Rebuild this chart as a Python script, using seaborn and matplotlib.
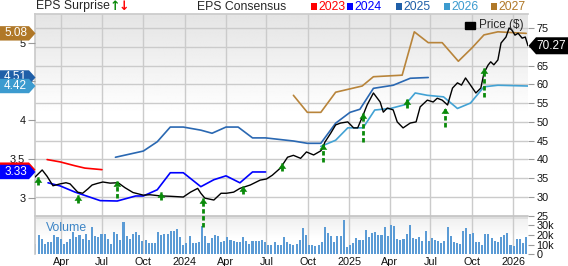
import numpy as np
import pandas as pd
import matplotlib
matplotlib.use("Agg")
import matplotlib.pyplot as plt
import matplotlib.dates as mdates
from matplotlib.patches import Polygon, Rectangle
from matplotlib.transforms import IdentityTransform
from matplotlib.ticker import FuncFormatter
import seaborn as sns

sns.set_theme(style="white")
plt.rcParams['font.family'] = ['Liberation Sans', 'DejaVu Sans']

# ---------------- data ----------------
price_dates = ["2023-02-02","2023-02-18","2023-03-01","2023-03-14","2023-03-30","2023-04-12","2023-04-21","2023-05-08","2023-05-19","2023-05-31",
               "2023-06-09","2023-06-20","2023-07-03","2023-07-19","2023-08-06","2023-08-21","2023-09-08","2023-10-01","2023-10-16","2023-11-08",
               "2023-11-30","2023-12-29","2024-01-14","2024-01-30","2024-02-06","2024-02-15","2024-03-06","2024-03-22","2024-04-03","2024-04-19",
               "2024-05-03","2024-05-26","2024-06-17","2024-07-01","2024-07-14","2024-08-01","2024-08-17","2024-08-30","2024-09-15","2024-09-28",
               "2024-10-14","2024-10-30","2024-11-03","2024-11-08","2024-11-21","2024-12-02","2024-12-13","2024-12-29","2025-01-11","2025-01-20",
               "2025-02-01","2025-02-10","2025-02-24","2025-03-11","2025-03-18","2025-03-27","2025-04-09","2025-04-18","2025-05-01","2025-05-17",
               "2025-05-30","2025-06-08","2025-06-24","2025-07-07","2025-07-16","2025-07-27","2025-08-08","2025-08-19","2025-08-30","2025-09-08",
               "2025-09-17","2025-09-28","2025-10-10","2025-10-21","2025-10-28","2025-11-06","2025-11-12","2025-11-19","2025-11-28","2025-12-05",
               "2025-12-16","2025-12-23","2025-12-29","2026-01-05","2026-01-12","2026-01-21","2026-01-28","2026-02-03"]
price_vals = [35.3,37.2,35.5,33.0,33.5,33.8,33.5,31.3,31.0,32.2,
              33.2,33.6,34.0,33.7,33.8,32.5,31.2,30.5,30.6,30.3,
              30.2,30.0,31.3,32.3,31.0,29.7,29.2,31.0,31.0,31.3,
              32.3,33.2,34.5,34.8,35.8,37.7,40.6,41.1,40.3,42.0,
              41.2,42.3,43.0,44.6,47.0,49.2,49.7,50.0,48.4,48.4,
              51.8,54.5,57.7,55.3,52.6,53.7,53.2,50.0,48.4,49.7,
              50.0,54.0,55.8,55.3,56.3,55.8,54.5,59.0,60.4,59.8,
              61.7,59.8,57.7,59.0,63.0,65.1,66.0,65.2,66.5,71.0,
              72.6,75.0,74.5,73.1,73.6,72.3,72.6,70.27]

eps23_dates = ["2023-03-01","2023-03-30","2023-05-02","2023-05-24","2023-07-01"]
eps23_vals = [3.49,3.46,3.41,3.38,3.36]
eps24_dates = ["2023-03-03","2023-03-30","2023-05-02","2023-06-27","2023-08-04","2023-09-14","2023-10-01","2023-11-01",
               "2023-11-30","2023-12-29","2024-02-06","2024-03-06","2024-04-02","2024-05-03","2024-05-31","2024-06-29"]
eps24_vals = [3.19,3.15,3.07,2.96,2.955,3.02,3.02,3.10,3.32,3.32,3.14,3.23,3.28,3.19,3.33,3.33]
eps25_dates = ["2023-07-31","2023-10-01","2023-11-01","2023-11-30","2023-12-29","2024-02-06","2024-03-02","2024-04-02",
               "2024-04-29","2024-05-31","2024-06-29","2024-08-30","2024-09-30","2024-10-30","2024-12-02","2025-01-03",
               "2025-01-25","2025-02-24","2025-04-09","2025-05-17","2025-06-26"]
eps25_vals = [3.52,3.60,3.72,3.91,3.91,3.87,3.83,3.91,3.91,3.77,3.77,3.73,3.70,3.70,3.96,4.10,4.14,4.41,4.45,4.54,4.55]
eps26_dates = ["2024-10-30","2024-12-02","2024-12-29","2025-02-01","2025-02-27","2025-04-03","2025-05-06","2025-05-28",
               "2025-06-24","2025-07-30","2025-08-30","2025-09-28","2025-10-28","2025-11-28","2026-02-03"]
eps26_vals = [3.66,3.74,3.90,3.90,4.13,4.15,4.20,4.35,4.32,4.30,4.15,4.22,4.43,4.45,4.44]
eps27_dates = ["2024-08-30","2024-09-30","2024-10-30","2024-12-02","2025-01-30","2025-02-24","2025-04-29","2025-05-26",
               "2025-06-26","2025-07-27","2025-09-01","2025-10-01","2025-10-28","2025-11-28","2026-01-30"]
eps27_vals = [4.32,4.10,4.10,4.36,4.44,4.56,4.58,5.14,5.00,5.00,4.76,4.93,5.10,5.14,5.12]

consensus_years = ["2023", "2024", "2025", "2026", "2027"]
consensus_colors = ["#ff0000", "#0000ff", "#2a68b2", "#42a2d4", "#b8843a"]
tag_colors = ["#ff0000", "#0000ff", "#1f5fa8", "#3c9bcf", "#b07828"]
tag_texts = ["", "3.33", "4.51", "4.42", "5.08"]

surp_dates = ["2023-02-08","2023-05-08","2023-08-04","2023-11-10","2024-02-10","2024-05-10",
              "2024-08-05","2024-11-03","2025-02-01","2025-05-10","2025-08-03","2025-10-28"]
surp_head = [35.3,30.5,34.3,31.3,29.7,32.9,39.1,44.1,52.4,56.1,53.7,64.4]
surp_tail = [33.2,28.4,29.7,29.2,22.0,30.8,37.0,39.3,44.6,53.7,48.6,56.6]

vol_start = "2023-02-03"
vol_k = [11,20,16,11,13,13,20,18,16,11,13,16,23,18,20,16,21,15,28,19,18,21,21,16,11,23,21,15,33,19,16,21,
         23,20,14,15,12,12,12,23,20,21,21,24,24,26,18,9,12,19,12,12,13,29,19,12,17,20,19,13,14,18,15,
         14,13,13,18,14,11,14,14,14,15,13,10,10,13,10,10,18,13,11,10,11,15,27,20,10,10,8,10,13,28,22,
         19,13,19,19,35,7,9,12,17,15,15,25,18,22,23,20,20,28,19,30,29,16,15,16,21,30,17,16,18,14,24,14,
         17,15,14,12,14,28,19,13,12,11,24,27,21,22,13,13,10,21,21,17,14,13,18,20,22,10,8,16,16,12,18]

price_ticks = [25, 30, 35, 40, 45, 50, 55, 60, 65, 70, 75]
price_tick_labels = ["25", "30", "35", "40", "45", "50", "55", "60", "65", "", "75"]
eps_ticks = [3, 3.5, 4, 4.5, 5]
eps_tick_labels = ["3", "3.5", "4", "", "5"]
vol_ticks = [0, 10000, 20000, 30000]
vol_tick_labels = ["0", "10k", "20k", "30k"]
last_price_label = "70.27"

# ---------------- layout ----------------
W, H = 568, 266
fig = plt.figure(figsize=(W / 100, H / 100), dpi=100)
fig.patch.set_facecolor("white")
L, R = 35, 528
TOP, MID, VB = 14, 215.8, 254.3

def rect(x0, x1, ytop, ybot):
    return [x0 / W, (H - ybot) / H, (x1 - x0) / W, (ybot - ytop) / H]

# gradient backgrounds
bg = fig.add_axes(rect(L, R, TOP, MID), zorder=-2)
t = np.linspace(0, 1, 200)[:, None]
grad = np.clip(0.895 + 0.105 * t / 0.5, 0, 1)
bg.imshow(np.repeat(grad, 2, axis=1), aspect="auto", extent=[0, 1, 0, 1], cmap="gray", vmin=0, vmax=1)
bg.axis("off")
bgv = fig.add_axes(rect(L, R, MID, VB), zorder=-2)
gv = np.clip(0.93 + 0.07 * np.linspace(0, 1, 100)[:, None] / 0.6, 0, 1)
bgv.imshow(np.repeat(gv, 2, axis=1), aspect="auto", extent=[0, 1, 0, 1], cmap="gray", vmin=0, vmax=1)
bgv.axis("off")

ax = fig.add_axes(rect(L, R, TOP, MID))
axv = fig.add_axes(rect(L, R, MID, VB), sharex=ax)
ax_eps = ax.twinx()
ax_pr = ax.twinx()
for a in (ax, axv, ax_eps, ax_pr):
    a.set_facecolor("none")
    for s in a.spines.values():
        s.set_visible(False)

x0 = pd.Timestamp("2023-02-02")
x1 = pd.Timestamp("2026-02-03")
ax.set_xlim(x0, x1)

# axes scales
ax.set_ylim(25.0, 78.73)
ax_pr.set_ylim(25.0, 78.73)
ax_eps.set_ylim(2.764, 5.37)
axv.set_ylim(0, 39300)

# grid
grid_c = "#cbcbcb"
ax.xaxis.set_major_locator(mdates.MonthLocator(bymonth=[1, 4, 7, 10]))
ax.xaxis.set_major_formatter(FuncFormatter(
    lambda v, p: (str(mdates.num2date(v).year) if mdates.num2date(v).month == 1
                  else mdates.num2date(v).strftime("%b"))))
ax.set_yticks(price_ticks)
ax.set_yticklabels(price_tick_labels)
ax.grid(True, color=grid_c, lw=1.0)
ax.set_axisbelow(True)
axv.grid(True, axis="x", color=grid_c, lw=1.0)
axv.set_axisbelow(True)
ax.spines["top"].set_visible(True); ax.spines["top"].set_color(grid_c)
ax.spines["left"].set_visible(True); ax.spines["left"].set_color(grid_c)
axv.spines["left"].set_visible(True); axv.spines["left"].set_color(grid_c)
axv.axhspan(36300, 39300, color="#dedede", lw=0, zorder=0)
axv.axhline(39300, color="#c4c4c4", lw=1.2, clip_on=False)

# ticks
ax.yaxis.tick_right()
ax.tick_params(axis="y", right=True, left=False, length=4, width=0.8, color="#9a9a9a",
               labelsize=7.8, pad=2, labelcolor="#111111")
ax.tick_params(axis="x", labelbottom=False, length=0)
ax_eps.yaxis.tick_left()
ax_eps.set_yticks(eps_ticks)
ax_eps.set_yticklabels(eps_tick_labels)
ax_eps.tick_params(axis="y", left=True, right=False, labelleft=True, labelright=False,
                   length=5, width=0.8, color="#9a9a9a", labelsize=7.8, pad=2, labelcolor="#111111")
ax_pr.set_yticks([])
ax_pr.tick_params(axis="both", length=0, labelright=False)
axv.yaxis.tick_right()
axv.set_yticks(vol_ticks)
axv.set_yticklabels(vol_tick_labels)
axv.tick_params(axis="y", right=True, left=False, length=4, width=0.8, color="#9a9a9a",
                labelsize=7.8, pad=2, labelcolor="#111111")
axv.tick_params(axis="x", length=0, labelsize=7.8, pad=2, labelcolor="#111111")

# ---------------- marks ----------------
# volume
vol_dates = pd.date_range(vol_start, periods=len(vol_k), freq="7D")
axv.bar(vol_dates, np.array(vol_k) * 1000, width=4.6, color="#5b9bd5", lw=0, zorder=2)
axv.text((46 - L) / (R - L), 0.68, "Volume", transform=axv.transAxes, color="#3d85c6",
         fontsize=8.8, ha="left", va="center", zorder=3)

# consensus lines
eps_sets = [(eps23_dates, eps23_vals), (eps24_dates, eps24_vals), (eps25_dates, eps25_vals),
            (eps26_dates, eps26_vals), (eps27_dates, eps27_vals)]
for (d, v), c in zip(eps_sets, consensus_colors):
    df = pd.DataFrame({"date": pd.to_datetime(d), "eps": v})
    sns.lineplot(data=df, x="date", y="eps", ax=ax_eps, color=c, lw=1.2, legend=False)
ax_eps.set_xlabel(""); ax_eps.set_ylabel("")

# price line
pdf = pd.DataFrame({"date": pd.to_datetime(price_dates), "price": price_vals})
sns.lineplot(data=pdf, x="date", y="price", ax=ax_pr, color="black", lw=1.0, legend=False)
ax_pr.set_xlabel(""); ax_pr.set_ylabel("")
ax.set_xlabel(""); ax.set_ylabel("")
ax.set_xlim(x0, x1)

# surprise arrows (apex of the custom marker sits on the point)
sd = pd.to_datetime(surp_dates)
green = "#0a8a0a"
ax_pr.vlines(sd, surp_tail, surp_head, colors=green, linestyles=(0, (1.6, 0.9)),
             lw=2.0, clip_on=False, zorder=5)
head_marker = [(0, 0), (-0.5, -0.71), (0.5, -0.71)]
ax_pr.plot(sd, surp_head, ls="none", marker=head_marker, ms=7.4, color=green, mec=green, mew=0.3,
           clip_on=False, zorder=6)

# price legend inside plot
ax.add_patch(Rectangle((465 / W, (H - 28.5) / H), 10 / W, 6 / H, transform=fig.transFigure,
                       color="black", zorder=7))
fig.text(479 / W, (H - 25) / H, "Price ($)", fontsize=8.5, ha="left", va="center", zorder=7)

# ---------------- header ----------------
fig.text(36 / W, (H - 6.5) / H, "EPS Surprise", fontsize=8.8, ha="left", va="center")
fig.text(110 / W, (H - 6.5) / H, "\u2191", fontsize=9, color=green, fontweight="bold",
         ha="left", va="center", family="DejaVu Sans")
fig.text(119 / W, (H - 6.5) / H, "\u2193", fontsize=9, color="#ff0000", fontweight="bold",
         ha="left", va="center", family="DejaVu Sans")
fig.text(197 / W, (H - 6.5) / H, "EPS Consensus", fontsize=8.8, ha="left", va="center")
leg_x = [311, 347, 396, 444, 491]
for xx, yr, c in zip(leg_x, consensus_years, tag_colors):
    fig.add_artist(Rectangle((xx / W, (H - 9.5) / H), 6 / W, 6 / H, transform=fig.transFigure,
                             color=c, lw=0))
    fig.text((xx + 7) / W, (H - 6.5) / H, yr, fontsize=8.8, color=c, ha="left", va="center")

# ---------------- value tags ----------------
last_eps = [eps23_vals[-1], eps24_vals[-1], eps25_vals[-1], eps26_vals[-1], eps27_vals[-1]]
order = [0, 1, 4, 2, 3]
z = 20
for i in order:
    y = ax_eps.transData.transform((0, last_eps[i]))[1]
    h = 7.2
    poly = Polygon([(0, y - h), (29, y - h), (35.5, y), (29, y + h), (0, y + h)], closed=True,
                   transform=IdentityTransform(), facecolor=tag_colors[i], edgecolor="none", zorder=z)
    fig.add_artist(poly)
    if tag_texts[i]:
        fig.text(15.5 / W, y / H, tag_texts[i], color="white", fontsize=8.5, ha="center", va="center",
                 zorder=z + 1)
    z += 2

yp = ax_pr.transData.transform((0, price_vals[-1]))[1]
poly = Polygon([(528.5, yp), (536, yp + 8.5), (568, yp + 8.5), (568, yp - 8.5), (536, yp - 8.5)],
               closed=True, transform=IdentityTransform(), facecolor="black", edgecolor="none", zorder=30)
fig.add_artist(poly)
fig.text(551 / W, yp / H, last_price_label, color="white", fontsize=8.5, ha="center", va="center", zorder=31)

fig.savefig("out.png", dpi=100)
